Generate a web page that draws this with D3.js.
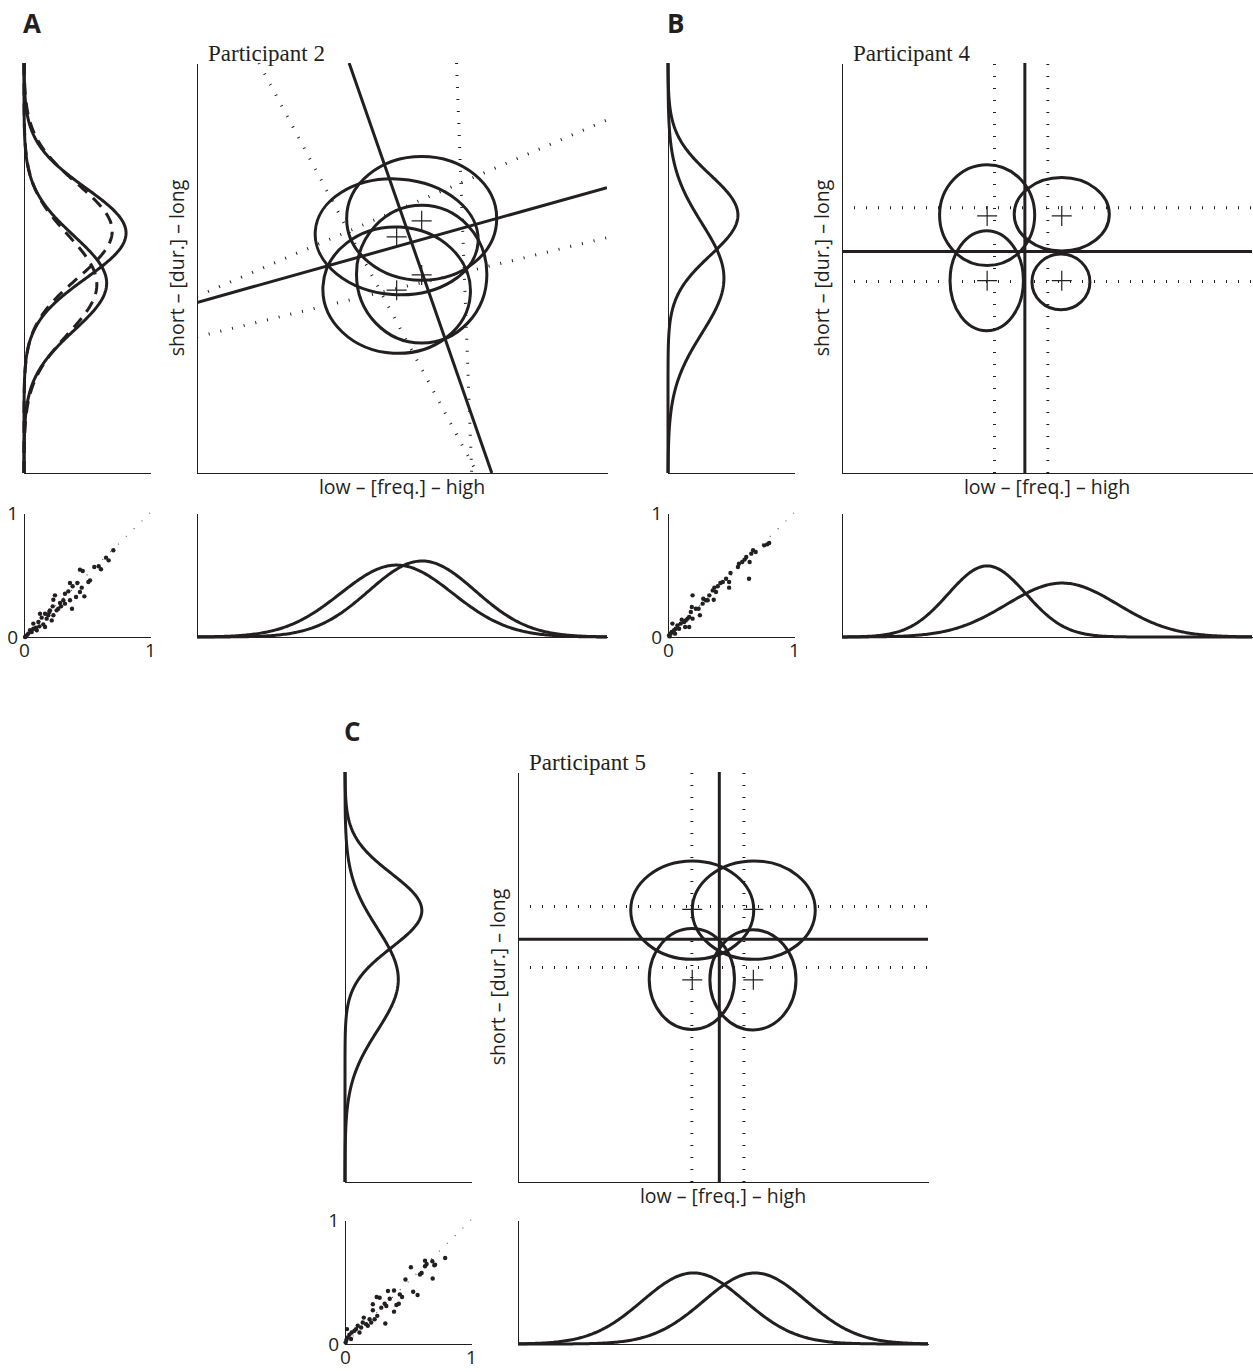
<!DOCTYPE html>
<html lang="en">
<head>
<meta charset="utf-8">
<title>Participants 2, 4 and 5</title>
<script src="https://cdn.jsdelivr.net/npm/d3@7"></script>
<style>
  body { margin: 0; background: #fff; }
  svg text { fill: #231f20; }
  .letter { font-family: "Open Sans", sans-serif; font-weight: 700; font-size: 26px; }
  .title { font-family: "Liberation Serif", serif; font-size: 23px; }
  .label { font-family: "Open Sans", sans-serif; font-size: 19.5px; }
</style>
</head>
<body>
<script>
const ink = "#231f20";

const panelLetters = ["A", "B", "C"];
const participantNames = ["Participant 2", "Participant 4", "Participant 5"];
const freqLabel = "low \u2013 [freq.] \u2013 high";
const durLabel = "short \u2013 [dur.] \u2013 long";
const scatterTicks = [0, 1];

// category means (+), [freq, dur] on 0-1 axes
const meansA = [[0.548, 0.615], [0.487, 0.576], [0.487, 0.446], [0.548, 0.483]];
const meansB = [[0.354, 0.627], [0.536, 0.627], [0.354, 0.469], [0.536, 0.469]];
const meansC = [[0.425, 0.665], [0.574, 0.665], [0.425, 0.493], [0.574, 0.493]];

// ellipses: [freq, dur, radius freq, radius dur, tilt deg]
const ellipsesA = [[0.548, 0.621, 0.183, 0.151, 0], [0.487, 0.576, 0.199, 0.141, 4],
                   [0.487, 0.446, 0.180, 0.154, 3], [0.548, 0.485, 0.159, 0.168, 0]];
const ellipsesB = [[0.354, 0.629, 0.116, 0.123, 0], [0.536, 0.631, 0.116, 0.0895, 0],
                   [0.353, 0.469, 0.0895, 0.122, 0], [0.534, 0.466, 0.0707, 0.068, 0]];
const ellipsesC = [[0.425, 0.663, 0.150, 0.120, 0], [0.575, 0.663, 0.150, 0.120, 0],
                   [0.424, 0.495, 0.104, 0.123, 0], [0.573, 0.493, 0.105, 0.122, 0]];

// solid boundaries and dotted guides: [f1, d1, f2, d2]
const boundsA = [[0.371, 1, 0.719, 0], [0, 0.416, 1, 0.696]];
const guidesA = [[0.151, 1, 0.683, 0], [0.633, 1, 0.670, 0], [0, 0.431, 1, 0.861], [0, 0.332, 1, 0.574]];
const boundsB = [[0.446, 0, 0.446, 1], [0, 0.540, 1, 0.540]];
const guidesB = [[0.372, 0, 0.372, 1], [0.502, 0, 0.502, 1], [0, 0.647, 1, 0.647], [0, 0.467, 1, 0.467]];
const boundsC = [[0.491, 0, 0.491, 1], [0, 0.592, 1, 0.592]];
const guidesC = [[0.424, 0, 0.424, 1], [0.551, 0, 0.551, 1], [0, 0.672, 1, 0.672], [0, 0.523, 1, 0.523]];

// marginal gaussians: [mean, sd, peak]
const durA = [[0.585, 0.11, 0.81], [0.463, 0.115, 0.656]];
const durDashedA = [[0.59, 0.115, 0.70], [0.46, 0.12, 0.578]];
const freqA = [[0.487, 0.137, 0.58], [0.549, 0.13, 0.613]];
const durB = [[0.629, 0.098, 0.555], [0.475, 0.134, 0.444]];
const freqB = [[0.354, 0.095, 0.573], [0.537, 0.135, 0.435]];
const durC = [[0.662, 0.09, 0.61], [0.494, 0.125, 0.423]];
const freqC = [[0.428, 0.125, 0.573], [0.578, 0.125, 0.573]];

// small scatter points [x, y]
const scatterA = [[0.709,0.699],[0.651,0.640],[0.672,0.618],[0.593,0.570],[0.558,0.565],[0.611,0.546],[0.444,0.543],
  [0.466,0.532],[0.524,0.457],[0.423,0.435],[0.511,0.444],[0.365,0.435],[0.386,0.409],[0.458,0.398],[0.444,0.363],
  [0.479,0.328],[0.413,0.323],[0.352,0.368],[0.325,0.349],[0.312,0.296],[0.365,0.296],[0.286,0.274],[0.233,0.301],
  [0.246,0.336],[0.228,0.247],[0.294,0.247],[0.259,0.215],[0.206,0.215],[0.193,0.175],[0.233,0.175],[0.167,0.188],
  [0.180,0.148],[0.127,0.188],[0.140,0.156],[0.220,0.134],[0.153,0.102],[0.114,0.121],[0.122,0.086],[0.381,0.228],
  [0.074,0.108],[0.074,0.067],[0.095,0.075],[0.061,0.040],[0.048,0.054],[0.034,0.027],[0.021,0.013],[0.016,0.005],
  [0.008,0.000],[0.101,0.054],[0.167,0.081],[0.201,0.202],[0.272,0.228],[0.325,0.269]];
const scatterB = [[0.787,0.747],[0.763,0.739],[0.803,0.758],[0.675,0.699],[0.696,0.685],[0.661,0.672],[0.621,0.645],
  [0.589,0.605],[0.648,0.605],[0.555,0.565],[0.496,0.516],[0.643,0.470],[0.461,0.470],[0.435,0.444],[0.485,0.444],
  [0.485,0.398],[0.395,0.409],[0.368,0.398],[0.355,0.376],[0.381,0.363],[0.328,0.336],[0.363,0.301],[0.280,0.309],
  [0.315,0.296],[0.275,0.269],[0.195,0.336],[0.243,0.228],[0.221,0.228],[0.189,0.242],[0.253,0.175],[0.168,0.161],
  [0.195,0.148],[0.155,0.148],[0.141,0.134],[0.109,0.140],[0.128,0.121],[0.168,0.081],[0.136,0.081],[0.101,0.108],
  [0.075,0.094],[0.088,0.067],[0.061,0.067],[0.035,0.108],[0.048,0.054],[0.029,0.040],[0.021,0.027],[0.008,0.013],
  [0.013,0.005],[0.056,0.027],[0.181,0.202],[0.301,0.296],[0.416,0.435],[0.563,0.591],[0.608,0.624]];
const scatterC = [[0.795,0.693],[0.715,0.640],[0.635,0.672],[0.648,0.645],[0.635,0.627],[0.693,0.667],[0.709,0.635],
  [0.523,0.619],[0.608,0.573],[0.595,0.560],[0.696,0.528],[0.480,0.520],[0.541,0.421],[0.576,0.395],[0.389,0.432],
  [0.341,0.427],[0.251,0.379],[0.275,0.373],[0.435,0.400],[0.453,0.379],[0.408,0.315],[0.427,0.325],[0.355,0.365],
  [0.315,0.325],[0.328,0.307],[0.288,0.293],[0.221,0.320],[0.221,0.272],[0.389,0.261],[0.320,0.165],[0.235,0.200],
  [0.195,0.200],[0.208,0.173],[0.149,0.213],[0.141,0.173],[0.168,0.160],[0.128,0.133],[0.101,0.147],[0.088,0.120],
  [0.075,0.107],[0.053,0.093],[0.016,0.120],[0.035,0.075],[0.021,0.053],[0.011,0.032],[0.005,0.013],[0.048,0.040],
  [0.115,0.093],[0.181,0.147],[0.256,0.227]];

const panels = [
  { means: meansA, ellipses: ellipsesA, bounds: boundsA, guides: guidesA, dur: durA, durDashed: durDashedA, freq: freqA, scatter: scatterA },
  { means: meansB, ellipses: ellipsesB, bounds: boundsB, guides: guidesB, dur: durB, durDashed: [], freq: freqB, scatter: scatterB },
  { means: meansC, ellipses: ellipsesC, bounds: boundsC, guides: guidesC, dur: durC, durDashed: [], freq: freqC, scatter: scatterC }
];

// where each panel sits on the page
const layout = [
  { letter: [23, 33],  mainX: 197, mainY: 63,  durX: 24,  rowY: 513,  rowH: 124 },
  { letter: [667, 33], mainX: 842, mainY: 63,  durX: 668, rowY: 513,  rowH: 124 },
  { letter: [344, 741], mainX: 518, mainY: 772, durX: 345, rowY: 1220, rowH: 124 }
];
const size = 410, smallW = 126;

function gauss(t, c) { return c[2] * Math.exp(-0.5 * Math.pow((t - c[0]) / c[1], 2)); }
const grid = d3.range(0, 1.0001, 0.004);

const svg = d3.select("body").append("svg").attr("width", 1253).attr("height", 1372);

function bareAxis(g) {
  g.attr("color", ink).select(".domain").attr("stroke-width", 1).attr("shape-rendering", "crispEdges");
}

panels.forEach(function(p, i) {
  const L = layout[i];
  const g = svg.append("g");

  const x = d3.scaleLinear().domain([0, 1]).range([L.mainX, L.mainX + size]);
  const y = d3.scaleLinear().domain([0, 1]).range([L.mainY + size, L.mainY]);

  g.append("text").attr("class", "letter").attr("x", L.letter[0]).attr("y", L.letter[1]).text(panelLetters[i]);
  g.append("text").attr("class", "title").attr("x", L.mainX + 11).attr("y", L.mainY - 2).text(participantNames[i]);

  // main plot
  g.append("clipPath").attr("id", "clip" + i).append("rect")
    .attr("x", L.mainX).attr("y", L.mainY).attr("width", size).attr("height", size);
  const plot = g.append("g").attr("clip-path", "url(#clip" + i + ")");

  plot.selectAll(".guide").data(p.guides).join("line")
    .attr("x1", d => x(d[0])).attr("y1", d => y(d[1])).attr("x2", d => x(d[2])).attr("y2", d => y(d[3]))
    .attr("stroke", ink).attr("stroke-width", 3).attr("stroke-dasharray", "1,11");

  plot.selectAll(".bound").data(p.bounds).join("line")
    .attr("x1", d => x(d[0])).attr("y1", d => y(d[1])).attr("x2", d => x(d[2])).attr("y2", d => y(d[3]))
    .attr("stroke", ink).attr("stroke-width", 3);

  plot.selectAll("ellipse").data(p.ellipses).join("ellipse")
    .attr("cx", d => x(d[0])).attr("cy", d => y(d[1]))
    .attr("rx", d => x(d[2]) - x(0)).attr("ry", d => y(0) - y(d[3]))
    .attr("transform", d => "rotate(" + d[4] + "," + x(d[0]) + "," + y(d[1]) + ")")
    .attr("fill", "none").attr("stroke", ink).attr("stroke-width", 3);

  plot.selectAll(".mean").data(p.means).join("path")
    .attr("d", d => "M" + (x(d[0]) - 10) + "," + y(d[1]) + "h20M" + x(d[0]) + "," + (y(d[1]) - 10) + "v20")
    .attr("stroke", ink).attr("stroke-width", 1.2).attr("fill", "none");

  g.append("g").attr("transform", "translate(" + L.mainX + ",0)")
    .call(d3.axisLeft(y).tickValues([]).tickSizeOuter(0)).call(bareAxis);
  g.append("g").attr("transform", "translate(0," + (L.mainY + size) + ")")
    .call(d3.axisBottom(x).tickValues([]).tickSizeOuter(0)).call(bareAxis);

  g.append("text").attr("class", "label").attr("text-anchor", "middle")
    .attr("x", x(0.5)).attr("y", L.mainY + size + 21).text(freqLabel);
  g.append("text").attr("class", "label").attr("text-anchor", "middle")
    .attr("transform", "translate(" + (L.mainX - 13) + "," + y(0.5) + ") rotate(-90)").text(durLabel);

  // duration marginal (left)
  const dx = d3.scaleLinear().domain([0, 1]).range([L.durX, L.durX + smallW]);
  g.append("g").attr("transform", "translate(" + L.durX + ",0)")
    .call(d3.axisLeft(y).tickValues([]).tickSizeOuter(0)).call(bareAxis);
  g.append("g").attr("transform", "translate(0," + (L.mainY + size) + ")")
    .call(d3.axisBottom(dx).tickValues([]).tickSizeOuter(0)).call(bareAxis);

  p.dur.forEach(function(c) {
    g.append("path").datum(grid)
      .attr("d", d3.line().x(t => dx(gauss(t, c))).y(t => y(t)))
      .attr("fill", "none").attr("stroke", ink).attr("stroke-width", 3);
  });
  p.durDashed.forEach(function(c) {
    g.append("path").datum(grid)
      .attr("d", d3.line().x(t => dx(gauss(t, c))).y(t => y(t)))
      .attr("fill", "none").attr("stroke", ink).attr("stroke-width", 3).attr("stroke-dasharray", "12,8");
  });

  // frequency marginal (bottom)
  const fy = d3.scaleLinear().domain([0, 1]).range([L.rowY + L.rowH, L.rowY]);
  g.append("g").attr("transform", "translate(" + L.mainX + ",0)")
    .call(d3.axisLeft(fy).tickValues([]).tickSizeOuter(0)).call(bareAxis);
  g.append("g").attr("transform", "translate(0," + (L.rowY + L.rowH) + ")")
    .call(d3.axisBottom(x).tickValues([]).tickSizeOuter(0)).call(bareAxis);
  p.freq.forEach(function(c) {
    g.append("path").datum(grid)
      .attr("d", d3.line().x(t => x(t)).y(t => fy(gauss(t, c))))
      .attr("fill", "none").attr("stroke", ink).attr("stroke-width", 3);
  });

  // small scatter
  const sx = d3.scaleLinear().domain([0, 1]).range([L.durX, L.durX + smallW]);
  const sy = d3.scaleLinear().domain([0, 1]).range([L.rowY + L.rowH, L.rowY]);
  g.append("line").attr("x1", sx(0)).attr("y1", sy(0)).attr("x2", sx(1)).attr("y2", sy(1))
    .attr("stroke", "#555").attr("stroke-width", 1.2).attr("stroke-dasharray", "1,10");
  g.selectAll(".pt").data(p.scatter).join("circle")
    .attr("cx", d => sx(d[0])).attr("cy", d => sy(d[1])).attr("r", 2.2).attr("fill", ink);

  const yAx = g.append("g").attr("transform", "translate(" + L.durX + ",0)")
    .call(d3.axisLeft(sy).tickValues(scatterTicks).tickSize(0).tickPadding(6).tickFormat(d3.format("d")));
  const xAx = g.append("g").attr("transform", "translate(0," + (L.rowY + L.rowH) + ")")
    .call(d3.axisBottom(sx).tickValues(scatterTicks).tickSize(0).tickPadding(6).tickFormat(d3.format("d")));
  [yAx, xAx].forEach(function(a) {
    a.call(bareAxis).attr("font-size", 19).attr("font-family", "Open Sans, sans-serif");
  });
});
</script>
</body>
</html>
